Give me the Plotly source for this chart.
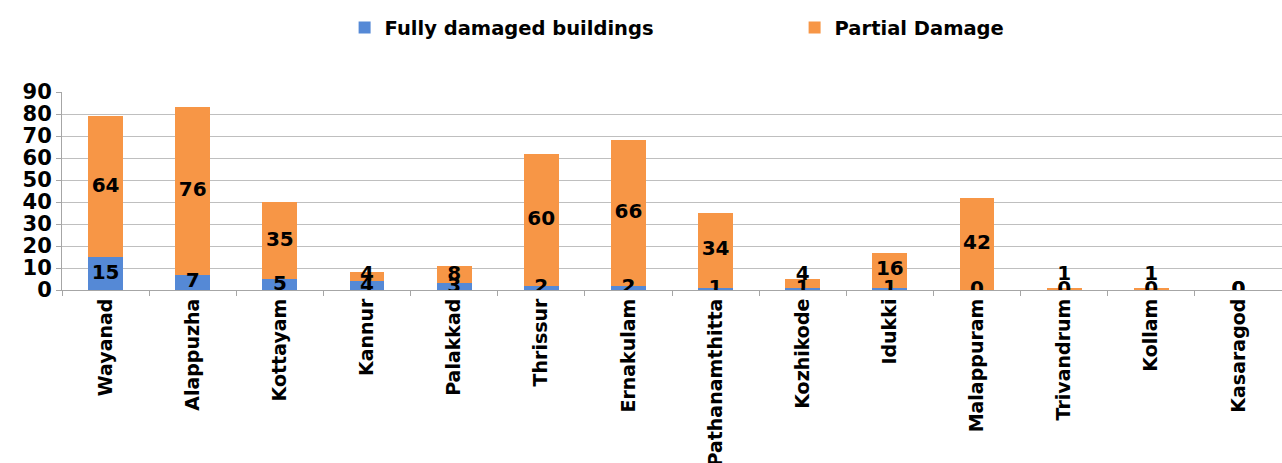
import plotly.graph_objects as go

districts = ["Wayanad", "Alappuzha", "Kottayam", "Kannur", "Palakkad", "Thrissur",
             "Ernakulam", "Pathanamthitta", "Kozhikode", "Idukki", "Malappuram",
             "Trivandrum", "Kollam", "Kasaragod"]
fully_damaged = [15, 7, 5, 4, 3, 2, 2, 1, 1, 1, 0, 0, 0, 0]
partial_damage = [64, 76, 35, 4, 8, 60, 66, 34, 4, 16, 42, 1, 1, 0]

BLUE = "#5589d6"
ORANGE = "#f79646"
FONT = "DejaVu Sans"

# label placement: centred in segment; labels of very small segments lifted so they stay legible
full_label_y = [v / 2 for v in fully_damaged]
partial_label_y = [max(f + p / 2, 7) if p > 0 else f + p / 2
                   for f, p in zip(fully_damaged, partial_damage)]

fig = go.Figure()
fig.add_trace(go.Bar(name="Fully damaged buildings", x=districts, y=fully_damaged,
                     marker=dict(color=BLUE, line=dict(width=0))))
fig.add_trace(go.Bar(name="Partial Damage", x=districts, y=partial_damage,
                     marker=dict(color=ORANGE, line=dict(width=0))))

fig.add_trace(go.Scatter(x=districts, y=full_label_y, mode="text",
                         text=[str(v) for v in fully_damaged], showlegend=False,
                         textfont=dict(family=FONT, size=20, color="black", weight="bold"),
                         hoverinfo="skip"))
fig.add_trace(go.Scatter(x=districts, y=partial_label_y,
                         mode="text", text=[str(v) for v in partial_damage], showlegend=False,
                         textfont=dict(family=FONT, size=20, color="black", weight="bold"),
                         hoverinfo="skip"))

fig.update_layout(
    barmode="stack",
    bargap=0.6,
    width=1282, height=463,
    margin=dict(l=62, r=0, t=92, b=173, autoexpand=False),
    paper_bgcolor="white", plot_bgcolor="white",
    font=dict(family=FONT, color="black"),
    legend=dict(orientation="h", xref="container", yref="container",
                x=0.2688, xanchor="left", y=0.94, yanchor="middle",
                font=dict(family=FONT, size=19.5, weight="bold"),
                entrywidth=405, entrywidthmode="pixels", traceorder="normal",
                itemwidth=30),
    xaxis=dict(range=[-0.5, len(districts) - 0.5],
               tickangle=-90, tickfont=dict(family=FONT, size=19, weight="bold"),
               showline=True, linecolor="#a6a6a6", linewidth=1,
               ticks="outside", tickson="boundaries", ticklen=5, tickcolor="#a6a6a6",
               automargin=False),
    yaxis=dict(range=[0, 90], dtick=10, showgrid=True, gridcolor="#bfbfbf", gridwidth=1,
               showline=True, linecolor="#a6a6a6", linewidth=1, ticks="outside", ticklen=5,
               tickcolor="#a6a6a6",
               tickfont=dict(family=FONT, size=21, weight="bold"), automargin=False,
               zeroline=False),
)

fig.write_html("out.html", config={"displayModeBar": False},
               post_script="document.body.style.margin='0';document.body.style.overflow='hidden';")
